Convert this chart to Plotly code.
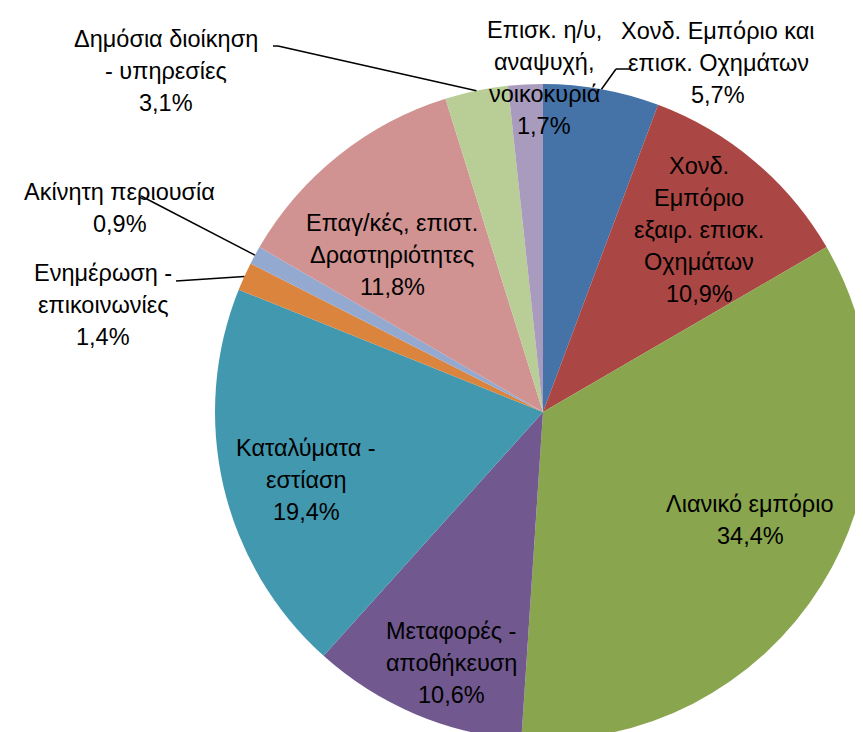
import math
import plotly.graph_objects as go

# ---- data ----
categories = [
    "Χονδ. Εμπόριο και<br>επισκ. Οχημάτων",
    "Χονδ.<br>Εμπόριο<br>εξαιρ. επισκ.<br>Οχημάτων",
    "Λιανικό εμπόριο",
    "Μεταφορές -<br>αποθήκευση",
    "Καταλύματα -<br>εστίαση",
    "Ενημέρωση -<br>επικοινωνίες",
    "Ακίνητη περιουσία",
    "Επαγ/κές, επιστ.<br>Δραστηριότητες",
    "Δημόσια διοίκηση<br>- υπηρεσίες",
    "Επισκ. η/υ,<br>αναψυχή,<br>νοικοκυριά",
]
values = [5.7, 10.9, 34.4, 10.6, 19.4, 1.4, 0.9, 11.8, 3.1, 1.7]

# ---- styles ----
colors = ["#4572A7", "#AA4643", "#89A54E", "#71588F", "#4198AF",
          "#DB843D", "#93A9CF", "#D19392", "#B9CD96", "#A99BBD"]

W, H = 863, 732
R = 328                      # pie radius in px
CX, CY = W - R, H - R        # pie centre in px (from top-left)

# label block centres (px from top-left)
label_pos = [(710, 55), (691, 222), (742, 512), (443, 655), (298, 472),
             (95, 297), (112, 200), (384, 247), (158, 63), (536, 70)]
LINE_STEP = 32
FONT_SIZE = 23.5
# leader line label-side points (px), None = no leader
leader_pts = [[(622, 61), (608, 61)], None, None, None, None,
              [(168, 273)], [(133, 188)], None, [(265, 38), (270, 38)], None]

FONT = "Liberation Sans, Arial, sans-serif"

fig = go.Figure(go.Pie(
    labels=[c.replace("<br>", " ") for c in categories],
    values=values,
    sort=False,
    direction="clockwise",
    rotation=0,
    marker=dict(colors=colors, line=dict(width=0)),
    textinfo="none",
    hoverinfo="label+percent",
    domain=dict(x=[(CX - R) / W, 1.0], y=[0.0, 2 * R / H]),
    showlegend=False,
))

def px2paper(x, y):
    return x / W, 1 - y / H

annotations = []
shapes = []
total = sum(values)
cum = 0.0
for i, (cat, v) in enumerate(zip(categories, values)):
    mid = (cum + v / 2) / total * 2 * math.pi
    cum += v
    pct = f"{v:.1f}".replace(".", ",") + "%"
    lines = cat.split("<br>") + [pct]
    lx, ly = label_pos[i]
    n = len(lines)
    for k, line in enumerate(lines):
        yy = ly + (k - (n - 1) / 2) * LINE_STEP
        px, py = px2paper(lx, yy)
        annotations.append(dict(
            x=px, y=py, xref="paper", yref="paper",
            text=line, showarrow=False,
            xanchor="center", yanchor="middle", align="center",
            font=dict(family=FONT, size=FONT_SIZE, color="#000000"),
        ))
    if leader_pts[i]:
        edge = (CX + R * math.sin(mid), CY - R * math.cos(mid))
        pts = leader_pts[i] + [edge]
        for (x0, y0), (x1, y1) in zip(pts[:-1], pts[1:]):
            a0, b0 = px2paper(x0, y0)
            a1, b1 = px2paper(x1, y1)
            shapes.append(dict(type="line", xref="paper", yref="paper",
                               x0=a0, y0=b0, x1=a1, y1=b1,
                               line=dict(color="#000000", width=1.5)))

fig.update_layout(
    width=W, height=H,
    margin=dict(l=0, r=0, t=0, b=0),
    paper_bgcolor="#FFFFFF",
    plot_bgcolor="#FFFFFF",
    annotations=annotations,
    shapes=shapes,
)

fig.write_html("out.html")
